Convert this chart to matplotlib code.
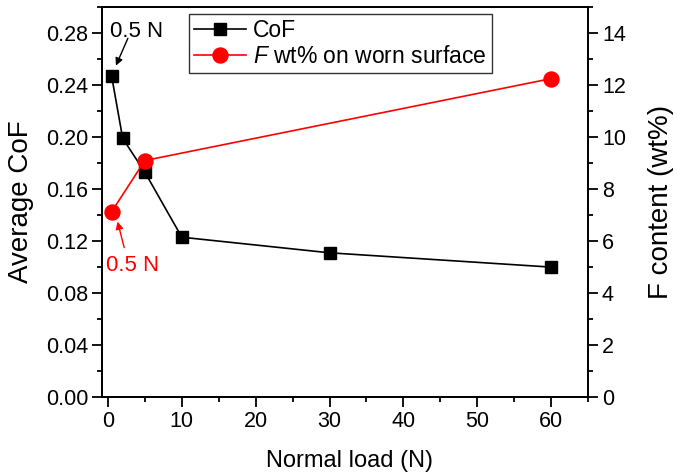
import numpy as np
import matplotlib
matplotlib.use("Agg")
import matplotlib.pyplot as plt

plt.rcParams['font.family'] = ['Liberation Sans', 'DejaVu Sans']
plt.rcParams['mathtext.fontset'] = 'custom'
plt.rcParams['mathtext.rm'] = 'Liberation Sans'
plt.rcParams['mathtext.it'] = 'Liberation Sans:italic'

# data
load = [0.5, 2, 5, 10, 30, 60]
cof = [0.247, 0.199, 0.173, 0.123, 0.111, 0.100]
f_load = [0.5, 5, 60]
f_wt = [7.13, 9.1, 12.25]

fig = plt.figure(figsize=(6.77, 4.75), dpi=100)
ax = fig.add_axes([0.1507, 0.164, 0.718, 0.821])
ax2 = ax.twinx()

l1, = ax.plot(load, cof, '-s', color='black', lw=1.2, ms=8.6, label='CoF', zorder=3)
l2, = ax2.plot(f_load, f_wt, '-o', color='red', lw=1.2, ms=10.8,
               label='$\\it{F}$ wt% on worn surface', zorder=3)

ax.set_xlim(-0.8, 65.0)
ax.set_ylim(0, 0.30)
ax2.set_ylim(0, 15)

ax.set_xticks(np.arange(0, 61, 10))
ax.set_xticks(np.arange(0, 66, 5), minor=True)
ax.set_yticks(np.arange(0, 0.29, 0.04))
ax.set_yticks(np.arange(0, 0.31, 0.02), minor=True)
ax.set_yticklabels(['%.2f' % v for v in np.arange(0, 0.29, 0.04)])
ax2.set_yticks(np.arange(0, 15, 2))
ax2.set_yticks(np.arange(0, 16, 1), minor=True)

for a in (ax, ax2):
    a.tick_params(which='major', direction='out', length=7, width=1.3,
                  labelsize=15.5, pad=3)
    a.tick_params(which='minor', direction='out', length=3.8, width=1.3)
    for s in a.spines.values():
        s.set_linewidth(1.3)

ax.set_xlabel('Normal load (N)', fontsize=17)
ax.set_ylabel('Average CoF', fontsize=20)
ax2.set_ylabel('F content (wt%)', fontsize=20)
ax.xaxis.set_label_coords(0.51, -0.135)
ax.yaxis.set_label_coords(-0.14, 0.5)
ax2.yaxis.set_label_coords(1.124, 0.5)

# "0.5 N" callouts
ax.text(0.27, 0.277, '0.5 N', fontsize=16, va='baseline', ha='left')
ax.annotate('', xy=(1.08, 0.255), xytext=(2.7, 0.276),
            arrowprops=dict(arrowstyle='-|>', color='black', lw=1,
                            mutation_scale=11, shrinkA=0, shrinkB=0))
ax2.text(-0.3, 4.85, '0.5 N', fontsize=16, color='red', va='baseline', ha='left')
ax2.annotate('', xy=(1.3, 6.75), xytext=(2.2, 5.75),
             arrowprops=dict(arrowstyle='-|>', color='red', lw=1,
                             mutation_scale=11, shrinkA=0, shrinkB=0))

leg = ax.legend(handles=[l1, l2], loc='upper left', bbox_to_anchor=(0.179, 0.982),
                borderaxespad=0, fontsize=16.5, frameon=True, fancybox=False,
                edgecolor='black', handlelength=2.27, borderpad=0.22,
                labelspacing=0.12, handletextpad=0.3)
leg.get_frame().set_linewidth(1.0)

fig.savefig('out.png', dpi=100)
